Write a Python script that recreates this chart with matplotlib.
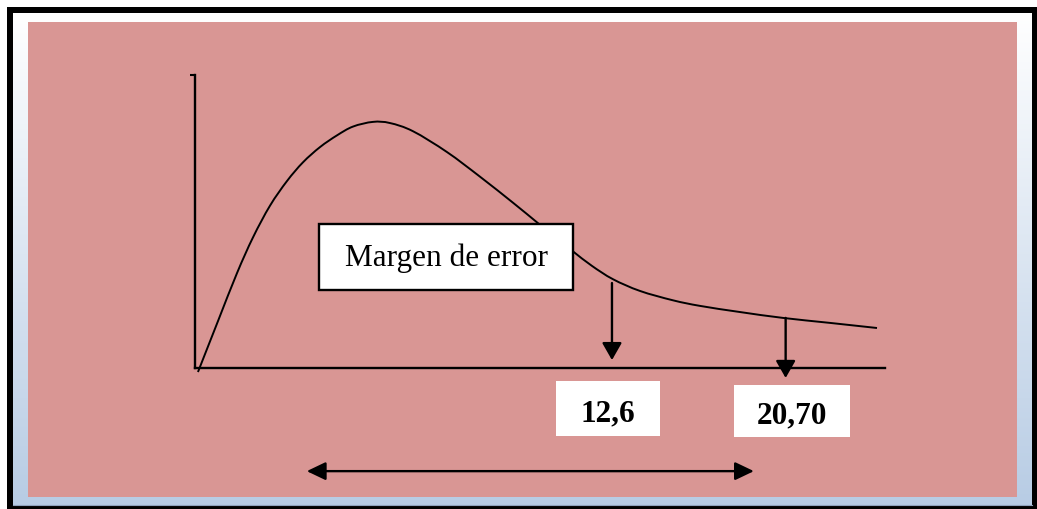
import numpy as np
import matplotlib
matplotlib.use("Agg")
import matplotlib.pyplot as plt
import matplotlib.patches as patches
from matplotlib.path import Path

# curve (schematic chi-square shape), axis units 0..100
curve_x = [0.43, 3.33, 6.09, 8.41, 10.87, 13.33, 15.65, 18.12, 20.58, 22.9, 25.8,
           28.26, 31.6, 36.52, 41.3, 46.09, 49.57, 52.2, 54.78, 57.5, 60.58, 64.49,
           69.28, 73.19, 78.99, 85.2, 92.0, 98.84]
curve_y = [-1.37, 16.0, 32.4, 44.6, 55.4, 63.8, 70.2, 75.4, 79.4, 82.4, 84.0,
           83.6, 80.8, 73.7, 65.3, 56.4, 49.7, 44.6, 39.8, 34.9, 30.3, 26.3,
           23.1, 21.2, 19.1, 17.1, 15.4, 13.65]

# critical values marked on the axis
labels = ["12,6", "20,70"]
marker_x = [60.43, 85.6]
marker_top = [29.0, 17.1]
marker_tip = [2.7, -3.4]


def smooth_path(xs, ys):
    # catmull-rom through the points, as cubic bezier segments
    p = np.column_stack([xs, ys])
    verts = [p[0]]
    codes = [Path.MOVETO]
    n = len(p)
    for i in range(n - 1):
        p0 = p[i - 1] if i > 0 else p[i]
        p1, p2 = p[i], p[i + 1]
        p3 = p[i + 2] if i + 2 < n else p[i + 1]
        c1 = p1 + (p2 - p0) / 6.0
        c2 = p2 - (p3 - p1) / 6.0
        verts += [c1, c2, p2]
        codes += [Path.CURVE4] * 3
    return Path(verts, codes)


W, H = 1037, 509
fig = plt.figure(figsize=(W / 100, H / 100), dpi=100)
fig.patch.set_facecolor("white")

# background frame, pixel coordinates
bg = fig.add_axes([0, 0, 1, 1])
bg.set_xlim(0, W)
bg.set_ylim(H, 0)
bg.axis("off")
bg.add_patch(patches.Rectangle((7, 7), W - 7, H - 7, facecolor="black", edgecolor="none"))
grad = np.linspace(0, 1, 256)[:, None, None]
top = np.array([1.0, 1.0, 1.0])
bot = np.array([0.72, 0.80, 0.895])
img = top * (1 - grad) + bot * grad
bg.imshow(img, extent=[13, 1032, 505, 13], aspect="auto", zorder=1)
bg.plot([13, 1032], [504.5, 504.5], color="#8fa3bd", lw=0.8, zorder=2)
bg.add_patch(patches.Rectangle((28, 22), 1017 - 28, 497 - 22, facecolor="#D99694",
                               edgecolor="none", zorder=3))
bg.set_xlim(0, W)
bg.set_ylim(H, 0)

# main diagram axes
ax = fig.add_axes([195 / W, (H - 368) / H, 690 / W, 293 / H])
ax.patch.set_alpha(0)
ax.set_xlim(0, 100)
ax.set_ylim(0, 100)
for s in ["top", "right"]:
    ax.spines[s].set_visible(False)
for s in ["left", "bottom"]:
    ax.spines[s].set_linewidth(1.7)
ax.set_xticks([])
ax.set_yticks([100])
ax.set_yticklabels([])
ax.tick_params(axis="y", length=3.5, width=1.5, direction="out")

ax.add_patch(patches.PathPatch(smooth_path(curve_x, curve_y), facecolor="none",
                               edgecolor="black", lw=1.4, clip_on=False, zorder=3))

for lab, x, y0, y1 in zip(labels, marker_x, marker_top, marker_tip):
    ax.annotate("", xy=(x, y1), xytext=(x, y0),
                arrowprops=dict(arrowstyle="-|>,head_length=1.05,head_width=0.6",
                                mutation_scale=10, lw=1.7, color="black",
                                shrinkA=0, shrinkB=0),
                annotation_clip=False, zorder=4)

# label boxes below axis
boxes = [(52.3, -23.2, 15.1, 18.8), (78.1, -23.6, 16.8, 17.8)]
for lab, (bx, by, bw, bh) in zip(labels, boxes):
    ax.add_patch(patches.Rectangle((bx, by), bw, bh, facecolor="white", edgecolor="none",
                                   clip_on=False, zorder=5))
    ax.text(bx + bw / 2, by + bh / 2 - 1.8, lab, ha="center", va="center",
            fontsize=22.5, fontweight="bold", family="Liberation Serif", zorder=6)

# "Margen de error" box
ax.add_patch(patches.Rectangle((18.0, 26.6), 36.8, 22.5, facecolor="white",
                               edgecolor="black", lw=1.7, clip_on=False, zorder=5))
ax.text(36.4, 37.6, "Margen de error", ha="center", va="center",
        fontsize=22.5, family="Liberation Serif", zorder=6)

# interval arrow
ax.annotate("", xy=(81.0, -35.2), xytext=(16.2, -35.2),
            arrowprops=dict(arrowstyle="<|-|>,head_length=1.15,head_width=0.55",
                            mutation_scale=10, lw=1.7, color="black",
                            shrinkA=0, shrinkB=0),
            annotation_clip=False, zorder=4)

fig.savefig("out.png", dpi=100)
